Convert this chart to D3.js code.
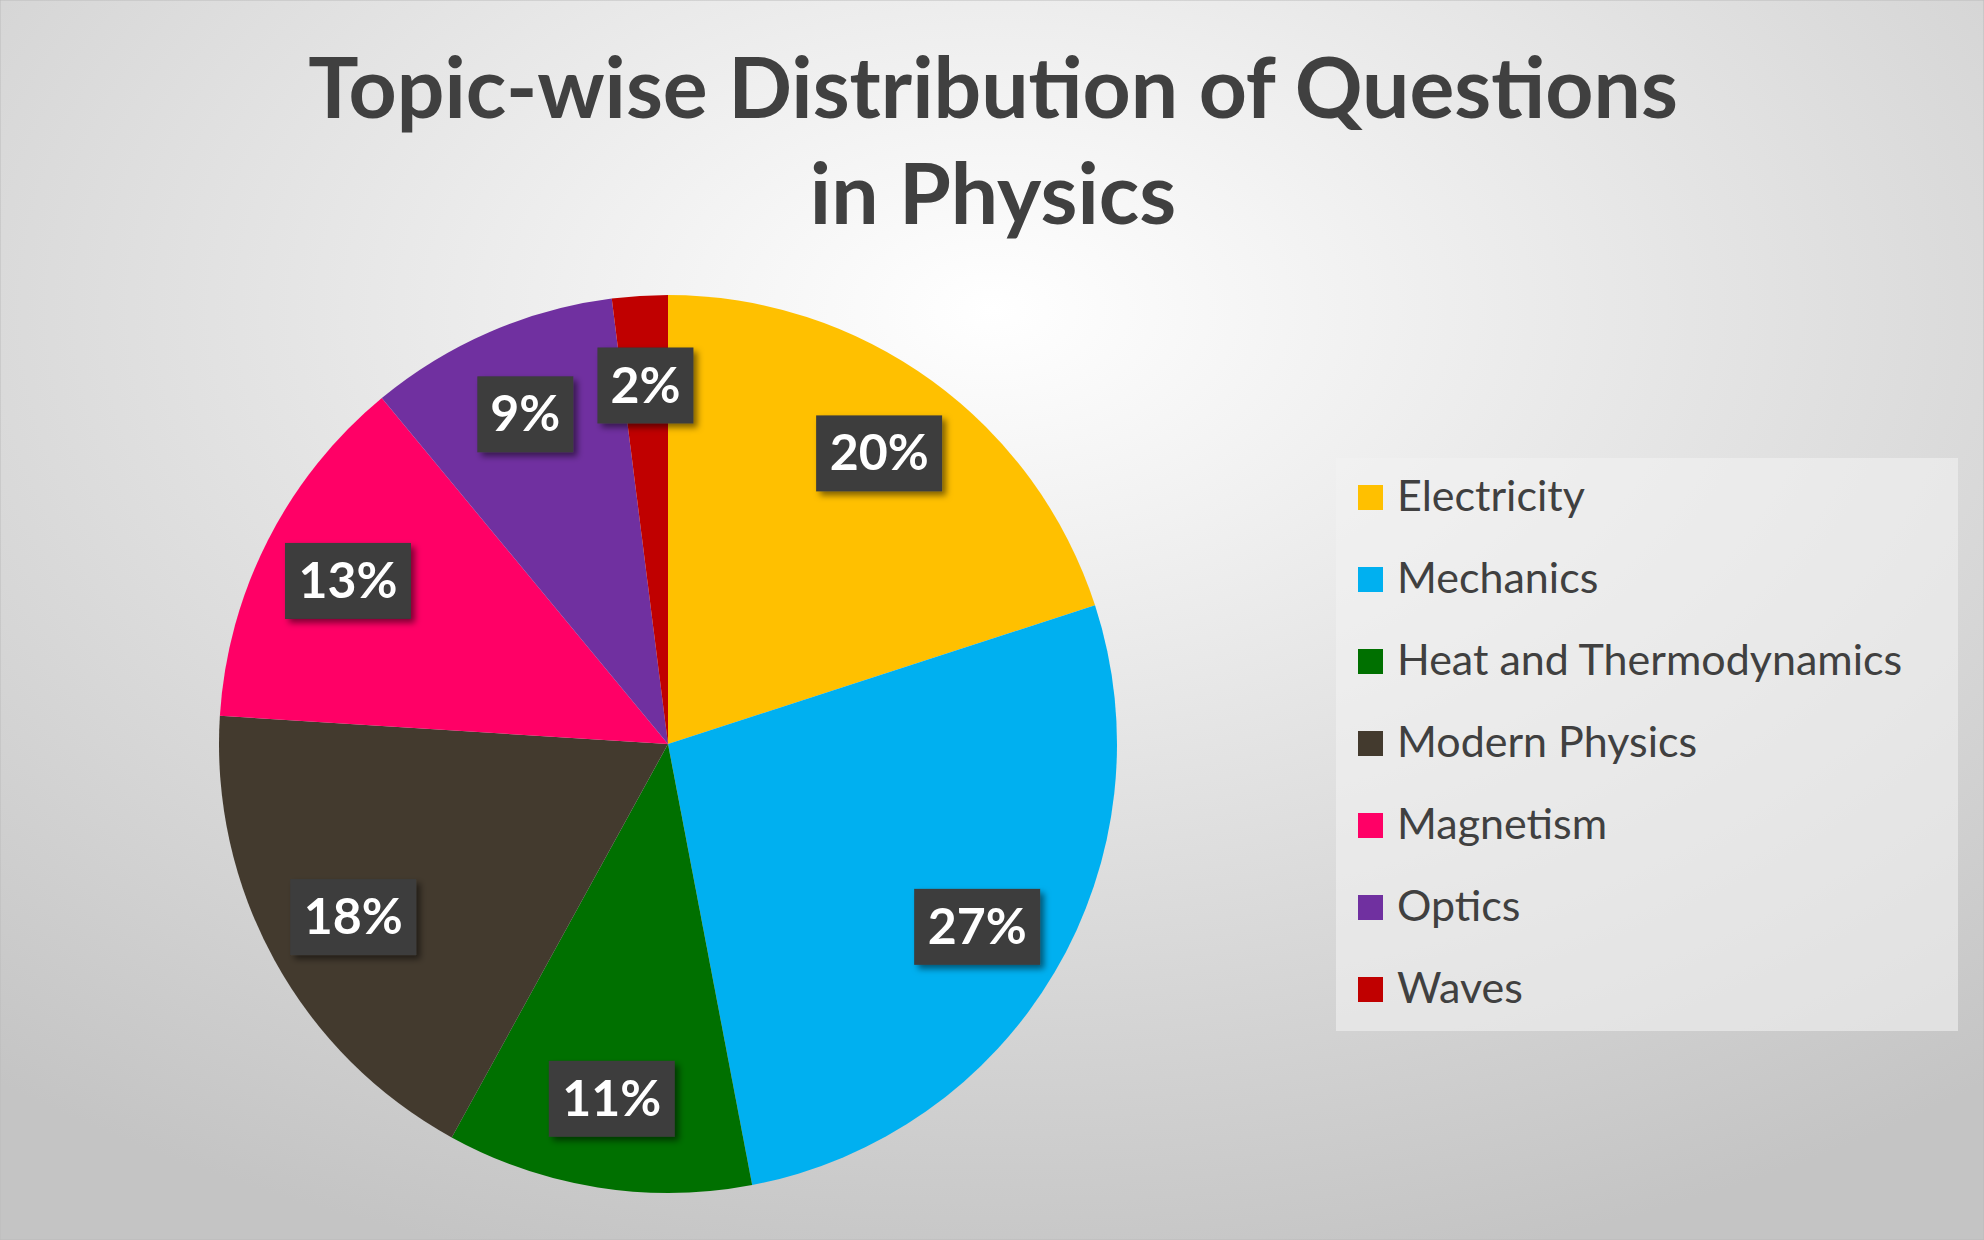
<!DOCTYPE html>
<html><head><meta charset="utf-8">
<script src="https://cdn.jsdelivr.net/npm/d3@7"></script>
<style>body{margin:0;overflow:hidden}</style>
</head><body>
<script>
const categories=["Electricity","Mechanics","Heat and Thermodynamics","Modern Physics","Magnetism","Optics","Waves"];
const values=[20,27,11,18,13,9,2];
const colors=["#FFC000","#00B0F0","#007000","#433A2E","#FF0066","#7030A0","#C00000"];
const W=1984,H=1240;
const svg=d3.select("body").append("svg").attr("width",W).attr("height",H);
const defs=svg.append("defs");
const g=defs.append("radialGradient").attr("id","bg").attr("cx","50%").attr("cy","25%").attr("r","80%");
g.append("stop").attr("offset","0%").attr("stop-color","#ffffff");
g.append("stop").attr("offset","100%").attr("stop-color","#c4c4c4");
const f=defs.append("filter").attr("id","sh").attr("x","-20%").attr("y","-20%").attr("width","150%").attr("height","150%");
f.append("feDropShadow").attr("dx",4).attr("dy",4).attr("stdDeviation",3).attr("flood-color","#000").attr("flood-opacity",0.5);
svg.append("rect").attr("width",W).attr("height",H).attr("fill","url(#bg)").attr("stroke","#bbb");
const font="'Lato','Open Sans',sans-serif";
svg.append("text").attr("x",993).attr("y",118).attr("text-anchor","middle").attr("font-family",font).attr("font-weight",700).attr("font-size",84).attr("fill","#404040").text("Topic-wise Distribution of Questions");
svg.append("text").attr("x",993).attr("y",224).attr("text-anchor","middle").attr("font-family",font).attr("font-weight",700).attr("font-size",84).attr("fill","#404040").text("in Physics");
const cx=668,cy=744,R=449;
const pie=d3.pie().sort(null).value(d=>d)(values);
const arc=d3.arc().innerRadius(0).outerRadius(R);
const pg=svg.append("g").attr("transform",`translate(${cx},${cy})`);
pg.selectAll("path").data(pie).join("path").attr("d",arc).attr("fill",(d,i)=>colors[i]);
const la=d3.arc().innerRadius(R*0.8).outerRadius(R*0.8);
pie.forEach((d,i)=>{
  const [x,y]=la.centroid(d);
  const t=values[i]+"%";
  const w=t.length===2?96:126,h=76;
  pg.append("rect").attr("x",x-w/2).attr("y",y-h/2).attr("width",w).attr("height",h).attr("fill","#3c3c3c").attr("filter","url(#sh)");
  pg.append("text").attr("x",x).attr("y",y+17).attr("text-anchor","middle").attr("font-family",font).attr("font-weight",700).attr("font-size",50).attr("fill","#fff").text(t);
});
svg.append("rect").attr("x",1336).attr("y",458).attr("width",622).attr("height",573).attr("fill","#f2f2f2").attr("opacity",0.6);
categories.forEach((c,i)=>{
  const y=497+i*82;
  svg.append("rect").attr("x",1358).attr("y",y-12).attr("width",25).attr("height",25).attr("fill",colors[i]);
  svg.append("text").attr("x",1397).attr("y",y+14).attr("font-family",font).attr("font-size",43).attr("fill","#404040").text(c);
});
</script>
</body></html>
